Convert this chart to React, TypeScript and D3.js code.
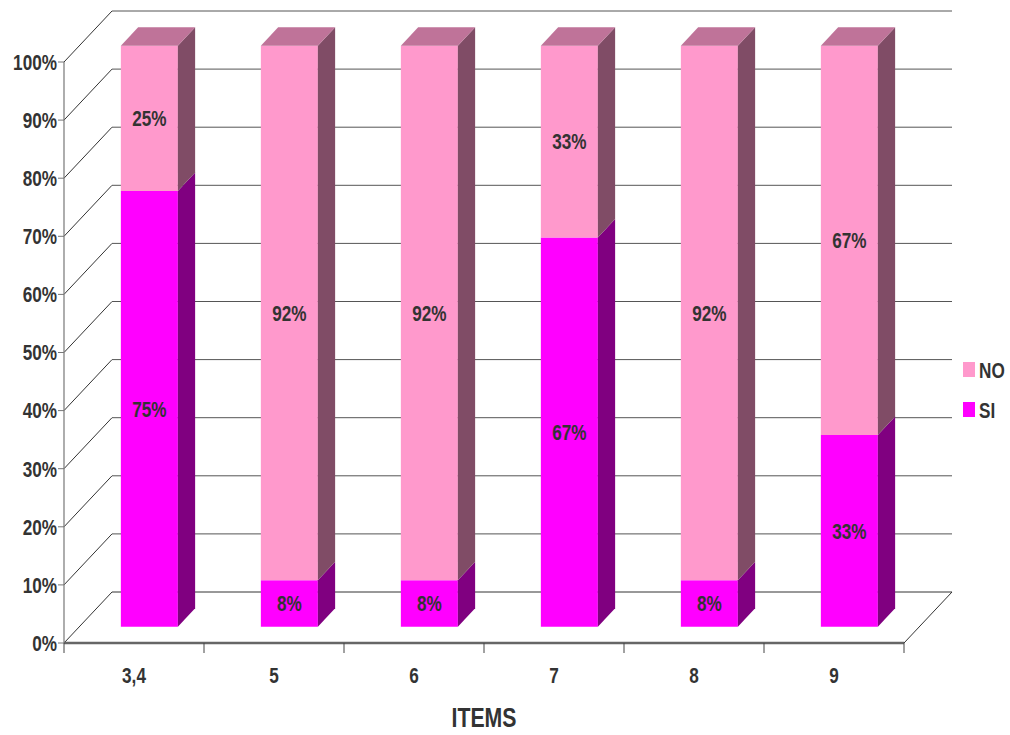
import React from "react";
import * as d3 from "d3";

// Items surveyed and the share of answers per item
const categories = ["3,4", "5", "6", "7", "8", "9"];
const siValues = [75, 8, 8, 67, 8, 33];
const noValues = [25, 92, 92, 33, 92, 67];
const yTicks = [0, 10, 20, 30, 40, 50, 60, 70, 80, 90, 100];

const W = 1010;
const H = 735;
const FONT = "'Liberation Sans', Arial, sans-serif";
// horizontal squeeze giving a narrow bold face
const NARROW = 0.78;

// front plane of the plot box
const x0 = 64;
const x1 = 904;
const yBottom = 643;
const yTop = 62;
// full depth offset of the 3D box
const DX = 48;
const DY = -51;
// bar depth span inside the box
const D0 = 0.32;
const D1 = 0.68;

const series = [
  { name: "SI", values: siValues, front: "#FF00FF", side: "#800080", top: "#C000C0" },
  { name: "NO", values: noValues, front: "#FF99CC", side: "#804C66", top: "#BF7399" },
];

type LabelProps = {
  x: number;
  y: number;
  anchor?: "start" | "middle" | "end";
  baseline?: "central" | "auto";
  size?: number;
  squeeze?: number;
  children: React.ReactNode;
};

function Label({ x, y, anchor = "middle", baseline = "central", size = 22, squeeze = NARROW, children }: LabelProps) {
  return (
    <g transform={`translate(${x},${y}) scale(${squeeze},1)`}>
      <text
        textAnchor={anchor}
        dominantBaseline={baseline}
        fontFamily={FONT}
        fontWeight="bold"
        fontSize={size}
        fill="#333"
      >
        {children}
      </text>
    </g>
  );
}

export default function App() {
  const x = d3.scaleBand<string>().domain(categories).range([x0, x1]).paddingInner(0.593).paddingOuter(0.2965);
  const y = d3.scaleLinear().domain([0, 100]).range([yBottom, yTop]);
  const bw = x.bandwidth();

  const proj = (px: number, py: number, d: number): [number, number] => [px + DX * d, py + DY * d];
  const poly = (pts: [number, number][]) => pts.map((p) => p.join(",")).join(" ");

  const grid = yTicks.map((t) => {
    const yy = y(t);
    const [bx, by] = proj(x0, yy, 1);
    return (
      <g key={"g" + t}>
        <line x1={x0} y1={yy} x2={bx} y2={by} stroke="#333" strokeWidth={1} />
        <line x1={bx} y1={by} x2={x1 + DX} y2={by} stroke={t === 0 ? "#333" : "#555"} strokeWidth={1} />
      </g>
    );
  });

  const bars: React.ReactNode[] = [];
  const labels: React.ReactNode[] = [];
  categories.forEach((c, i) => {
    let acc = 0;
    series.forEach((s, si) => {
      const v = s.values[i];
      const lo = acc;
      const hi = acc + v;
      acc = hi;
      const left = x(c)!;
      const right = left + bw;
      const yl = y(lo);
      const yh = y(hi);
      const fBL = proj(left, yl, D0);
      const fBR = proj(right, yl, D0);
      const fTL = proj(left, yh, D0);
      const fTR = proj(right, yh, D0);
      const bBR = proj(right, yl, D1);
      const bTR = proj(right, yh, D1);
      const bTL = proj(left, yh, D1);
      bars.push(
        <g key={c + s.name}>
          <polygon points={poly([fBL, fBR, fTR, fTL])} fill={s.front} />
          <polygon points={poly([fBR, bBR, bTR, fTR])} fill={s.side} />
          {si === series.length - 1 && <polygon points={poly([fTL, fTR, bTR, bTL])} fill={s.top} />}
        </g>
      );
      labels.push(
        <Label key={"l" + c + s.name} x={(fBL[0] + fBR[0]) / 2} y={(fBL[1] + fTL[1]) / 2}>
          {v}%
        </Label>
      );
    });
  });

  const axisTicks = [x0, ...categories.map((c) => x(c)! - (x.step() * x.paddingInner()) / 2 + x.step())];

  return (
    <svg width={W} height={H} style={{ position: "absolute", left: 0, top: 0, background: "#fff" }}>
      {grid}
      {/* right edge of the floor */}
      <line x1={x1} y1={yBottom} x2={x1 + DX} y2={yBottom + DY} stroke="#333" strokeWidth={1} />
      {bars}
      {labels}
      {/* value axis */}
      <line x1={x0} y1={yBottom} x2={x0} y2={yTop} stroke="#777" strokeWidth={1.2} />
      {yTicks.map((t) => (
        <g key={"t" + t}>
          <line x1={x0 - 6} y1={y(t)} x2={x0} y2={y(t)} stroke="#777" strokeWidth={1} />
          <Label x={x0 - 7} y={y(t)} anchor="end">
            {t}%
          </Label>
        </g>
      ))}
      {/* category axis */}
      <line x1={x0} y1={yBottom} x2={x1} y2={yBottom} stroke="#666" strokeWidth={2.5} />
      {axisTicks.map((tx, i) => (
        <line key={"xt" + i} x1={tx} y1={yBottom} x2={tx} y2={yBottom + 10} stroke="#444" strokeWidth={1} />
      ))}
      {categories.map((c) => (
        <Label key={"c" + c} x={x(c)! + bw / 2} y={683} baseline="auto">
          {c}
        </Label>
      ))}
      <Label x={484} y={727} baseline="auto" size={28} squeeze={0.76}>
        ITEMS
      </Label>
      {/* legend */}
      {[series[1], series[0]].map((s, i) => (
        <g key={"lg" + s.name} transform={`translate(963, ${362 + i * 40})`}>
          <rect width={12} height={15} fill={s.front} />
          <Label x={16} y={8} anchor="start">
            {s.name}
          </Label>
        </g>
      ))}
    </svg>
  );
}
